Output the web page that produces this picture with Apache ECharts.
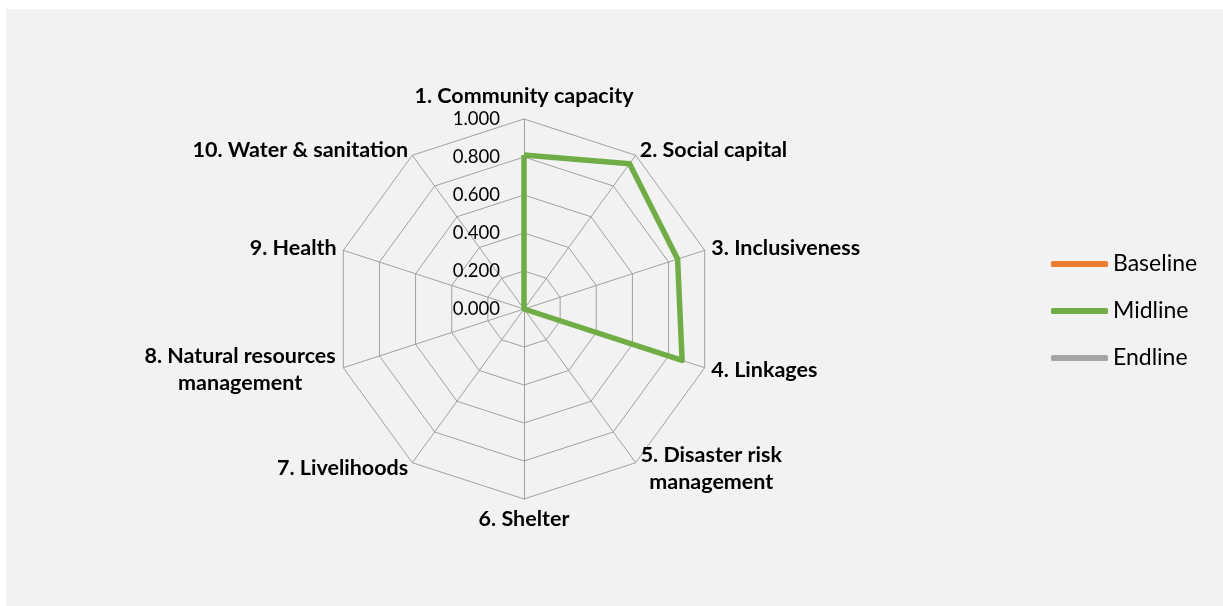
<!DOCTYPE html>
<html><head><meta charset="utf-8">
<script src="https://cdn.jsdelivr.net/npm/echarts@6/dist/echarts.min.js"></script>
<style>
html,body{margin:0;padding:0;background:#fff;width:1223px;height:606px;overflow:hidden}
#chart{position:absolute;left:6px;top:9px;width:1217px;height:597px;background:#f2f2f2}
</style></head><body>
<div id="chart"></div>
<script>
const categories = ['1. Community capacity','2. Social capital','3. Inclusiveness','4. Linkages','5. Disaster risk\nmanagement','6. Shelter','7. Livelihoods','8. Natural resources\nmanagement','9. Health','10. Water & sanitation'];
const seriesNames = ['Baseline','Midline','Endline'];
const baseline = [0,0,0,0,0,0,0,0,0,0];
const midline = [0.81,0.945,0.85,0.875,0,0,0,0,0,0];
const endline = [0,0,0,0,0,0,0,0,0,0];
const tickValues = [0,0.2,0.4,0.6,0.8,1.0];
const colors = {Baseline:'#ed7d31', Midline:'#70ad47', Endline:'#a5a5a5'};

// ECharts radar runs counter-clockwise; reorder so categories run clockwise from top
const order = [0,9,8,7,6,5,4,3,2,1];
const reorder = arr => order.map(i => arr[i]);
const indicators = reorder(categories).map((name, k) => {
  const ind = {name: name, min: tickValues[0], max: tickValues[tickValues.length-1]};
  if (k !== 0) ind.axisLabel = {show: false};
  return ind;
});
const values = {Baseline: baseline, Midline: midline, Endline: endline};
const drawOrder = ['Baseline','Endline','Midline'];

// centre the lines of multi-line names within their block
const NAME_FONT = 'bold 21.5px Lato';
const ctx = document.createElement('canvas').getContext('2d');
ctx.font = NAME_FONT;
const rich = {};
const richKey = {};
categories.forEach((c, i) => {
  if (c.indexOf('\n') >= 0) {
    const w = Math.max(...c.split('\n').map(s => ctx.measureText(s).width));
    richKey[c] = 'm' + i;
    rich['m' + i] = {width: Math.ceil(w) + 1, align: 'center', fontFamily: 'Lato', fontWeight: 'bold', fontSize: 21.5, lineHeight: 27, color: '#000'};
  }
});

const chart = echarts.init(document.getElementById('chart'), null, {renderer:'canvas'});
chart.setOption({
  animation: false,
  legend: {
    data: seriesNames,
    orient: 'vertical',
    left: 1045, top: 243,
    padding: 0,
    itemWidth: 57, itemHeight: 6, itemGap: 23,
    icon: 'roundRect',
    textStyle: {fontFamily: 'Lato', fontSize: 23, lineHeight: 24, color: '#000'}
  },
  radar: {
    center: [518, 300],
    radius: 190,
    startAngle: 90,
    shape: 'polygon',
    splitNumber: tickValues.length - 1,
    indicator: indicators,
    axisName: {color: '#000', fontFamily: 'Lato', fontWeight: 'bold', fontSize: 21.5, lineHeight: 27,
      rich: rich,
      formatter: function (name) {
        const k = richKey[name];
        if (!k) return name;
        return name.split('\n').map(s => '{' + k + '|' + s + '}').join('\n');
      }},
    nameGap: 7,
    axisLine: {lineStyle: {color: '#a0a0a0', width: 1}},
    splitLine: {lineStyle: {color: '#a0a0a0', width: 1}},
    splitArea: {show: false},
    axisTick: {show: false},
    axisLabel: {show: true, color: '#000', fontFamily: 'Lato', fontSize: 18.5, margin: 24,
      formatter: v => Number(v).toFixed(3)}
  },
  series: [{
    type: 'radar',
    symbol: 'none',
    data: drawOrder.map(n => ({
      name: n,
      value: reorder(values[n]),
      itemStyle: {color: colors[n]},
      lineStyle: {color: colors[n], width: 5.5, join: 'round'}
    }))
  }]
});
</script></body></html>
